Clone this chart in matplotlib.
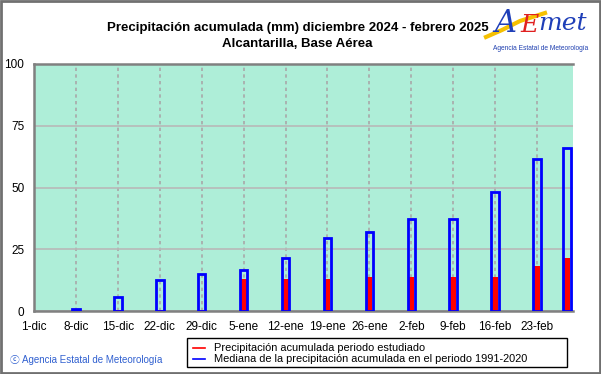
import matplotlib.pyplot as plt
from matplotlib.patches import Rectangle
from matplotlib.lines import Line2D

# days counted from 1-dic-2024
tick_days = [0, 7, 14, 21, 28, 35, 42, 49, 56, 63, 70, 77, 84]
tick_labels = ['1-dic', '8-dic', '15-dic', '22-dic', '29-dic', '5-ene', '12-ene',
               '19-ene', '26-ene', '2-feb', '9-feb', '16-feb', '23-feb']
bar_days = [7, 14, 21, 28, 35, 42, 49, 56, 63, 70, 77, 84, 89]
# observed accumulated precipitation (mm)
observed = [0.0, 0.3, 0.3, 0.3, 13.1, 13.1, 13.1, 13.6, 13.6, 13.6, 13.8, 18.3, 21.3]
# median accumulated precipitation 1991-2020 (mm)
median = [1.0, 5.8, 12.7, 15.1, 16.6, 21.6, 29.4, 32.1, 37.3, 37.3, 48.1, 61.5, 66.0]
legend_labels = ['Precipitación acumulada periodo estudiado',
                 'Mediana de la precipitación acumulada en el periodo 1991-2020']

W, H = 601, 374
fig = plt.figure(figsize=(6.01, 3.74), dpi=100)
fig.patch.set_facecolor('white')
ax = fig.add_axes([34/W, 1-311/H, 539/W, 247/H])
ax.set_facecolor('#aeeed8')

ax.set_xlim(0, 90)
ax.set_ylim(0, 100)
ax.set_yticks([0, 25, 50, 75, 100])
ax.set_xticks(tick_days)
ax.set_xticklabels(tick_labels, fontsize=8.5, family='Liberation Sans')
for lab in ax.get_yticklabels():
    lab.set_fontsize(8.5)
    lab.set_family('Liberation Sans')
ax.tick_params(length=0, pad=7)
ax.yaxis.grid(True, color='#b8b8b8', lw=1.2, ls='-')
ax.xaxis.grid(True, color='#a8a8a8', lw=1.2, ls=(0, (2, 2)))
ax.set_axisbelow(True)
for s in ax.spines.values():
    s.set_color('#808080')
    s.set_linewidth(1.8)
ax.spines['right'].set_visible(False)

ax.bar(bar_days, observed, width=1.0, color='#ff0000', zorder=3)
ax.bar(bar_days, median, width=1.25, facecolor='none', edgecolor='#0000ff', lw=2.0, zorder=4)

fig.text(0.495, 0.925, 'Precipitación acumulada (mm) diciembre 2024 - febrero 2025',
         ha='center', va='center', fontsize=9.5, fontweight='bold', family='Liberation Sans')
fig.text(0.495, 0.882, 'Alcantarilla, Base Aérea',
         ha='center', va='center', fontsize=9.5, fontweight='bold', family='Liberation Sans')

# logo
fig.add_artist(Line2D([486/W, 502/W, 520/W, 545/W], [1-37/H, 1-30/H, 1-21/H, 1-13/H],
                      color='#f5c000', lw=3, transform=fig.transFigure, zorder=1))
fig.text(494/W, 1-23/H, 'A', color='#1f3fb8', fontsize=22, style='italic',
         family='DejaVu Serif', va='center', zorder=2)
fig.text(520/W, 1-25/H, 'E', color='#e02020', fontsize=18, style='italic',
         family='DejaVu Serif', va='center', zorder=2)
fig.text(538/W, 1-24/H, 'met', color='#1f3fb8', fontsize=18, style='italic',
         family='DejaVu Serif', va='center', zorder=2)
fig.text(541/W, 1-49/H, 'Agencia Estatal de Meteorología', color='#2040b0', fontsize=4.8,
         ha='center', va='center', family='Liberation Sans')

fig.text(10/W, 1-360/H, 'ⓒ Agencia Estatal de Meteorología', color='#3060d0', fontsize=7,
         va='center', family=['Liberation Sans', 'Noto Sans CJK JP', 'DejaVu Sans'])

# legend box
fig.add_artist(Rectangle((187/W, 1-367/H), 380/W, 29/H, transform=fig.transFigure,
                         fill=False, edgecolor='black', lw=1.0))
for i, (lab, c) in enumerate(zip(legend_labels, ['#ff0000', '#0000ff'])):
    yy = 1-(348 + 11*i)/H
    fig.add_artist(Line2D([193/W, 205/W], [yy, yy], color=c, lw=1.2, transform=fig.transFigure))
    fig.text(214/W, yy, lab, fontsize=7.9, va='center', family='Liberation Sans')

fig.add_artist(Rectangle((0.002, 0.003), 0.996, 0.994, transform=fig.transFigure,
                         fill=False, edgecolor='#707070', lw=2))

fig.savefig('out.png', dpi=100)
